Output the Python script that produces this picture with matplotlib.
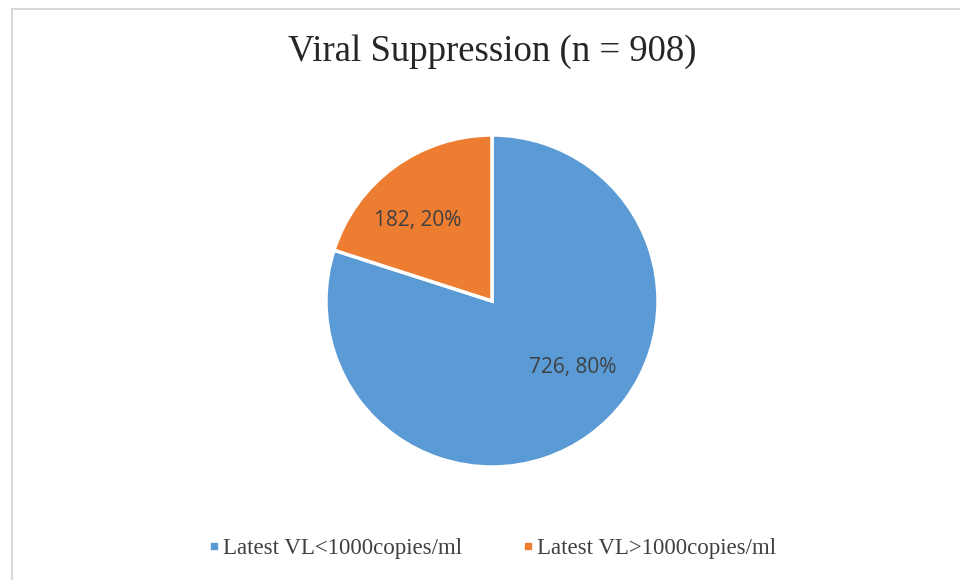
import matplotlib
matplotlib.use("Agg")
import matplotlib.pyplot as plt
from matplotlib.lines import Line2D
from matplotlib.patches import Rectangle
import numpy as np

categories = ["Latest VL<1000copies/ml", "Latest VL>1000copies/ml"]
values = [726, 182]
percents = [80, 20]
title = "Viral Suppression (n = 908)"
colors = ["#5B9BD5", "#ED7D31"]

W, H = 960, 580
fig = plt.figure(figsize=(W / 100, H / 100), dpi=100)
fig.patch.set_facecolor("white")

# chart frame
fig.patches.append(Rectangle((12 / W, -0.1), 1.2, 1 - 9 / H + 0.1, transform=fig.transFigure,
                             fill=False, edgecolor="#d9d9d9", linewidth=1.5))

cx, cy, r = 492, 301, 166
ax = fig.add_axes([(cx - r) / W, (H - cy - r) / H, 2 * r / W, 2 * r / H])
wedges, _ = ax.pie(values, colors=colors, startangle=90, counterclock=False,
                   wedgeprops=dict(edgecolor="white", linewidth=2.5))
ax.set_xlim(-1, 1)
ax.set_ylim(-1, 1)
ax.axis("off")

label_pos = [(-39.6, 0.63), (132.8, 0.66)]
for v, p, (ang, d) in zip(values, percents, label_pos):
    a = np.deg2rad(ang)
    ax.text(d * np.cos(a), d * np.sin(a), f"{v}, {p}%", ha="center", va="center",
            fontsize=15, color="#404040", family=["Open Sans", "DejaVu Sans"])

fig.text(492 / W, 1 - 52 / H, title, ha="center", va="center",
         fontsize=26.5, color="#262626", family=["Liberation Serif", "DejaVu Serif"])

handles = [Line2D([], [], marker="s", linestyle="none", markersize=5,
                  markerfacecolor=c, markeredgecolor=c) for c in colors]
fig.legend(handles, categories, loc="center", bbox_to_anchor=(492 / W, 1 - 548 / H),
           ncol=2, frameon=False, handlelength=0.5, handletextpad=0.15, columnspacing=2.6,
           prop=dict(family=["Liberation Serif", "DejaVu Serif"], size=16.5),
           labelcolor="#404040")

fig.savefig("out.png", dpi=100, facecolor="white")
